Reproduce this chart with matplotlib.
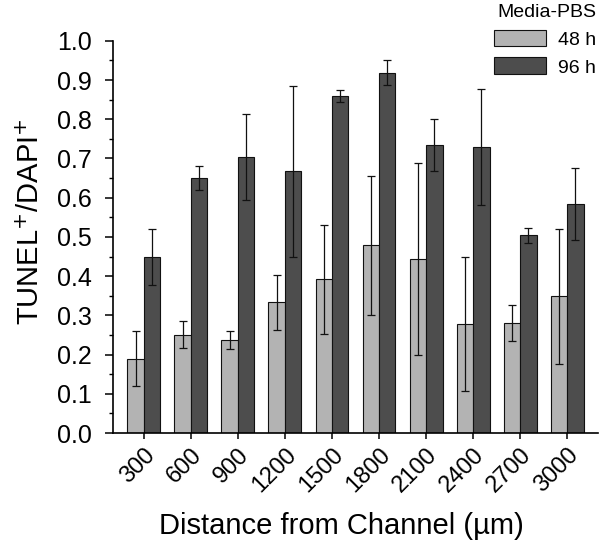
import numpy as np
import matplotlib.pyplot as plt
from matplotlib.ticker import MultipleLocator

plt.rcParams['font.family'] = ['Liberation Sans', 'DejaVu Sans']

# Dados
distancias = ['300', '600', '900', '1200', '1500', '1800', '2100', '2400', '2700', '3000']
media_48h = [0.19, 0.251, 0.237, 0.333, 0.392, 0.479, 0.443, 0.279, 0.281, 0.349]
erro_48h = [0.07, 0.034, 0.023, 0.071, 0.139, 0.177, 0.245, 0.171, 0.046, 0.172]
media_96h = [0.449, 0.65, 0.703, 0.667, 0.859, 0.919, 0.735, 0.729, 0.504, 0.584]
erro_96h = [0.072, 0.031, 0.11, 0.217, 0.016, 0.032, 0.066, 0.148, 0.019, 0.092]

x = np.arange(1, len(distancias) + 1)
w = 0.35

fig = plt.figure(figsize=(6, 5.51), dpi=100)
ax = fig.add_axes([0.188, 0.214, 0.809, 0.712])

ax.bar(x - w / 2, media_48h, w, color='#b3b3b3', edgecolor='#111111', linewidth=0.8, label='48 h')
ax.bar(x + w / 2, media_96h, w, color='#4d4d4d', edgecolor='#111111', linewidth=0.8, label='96 h')
ax.errorbar(x - w / 2, media_48h, yerr=erro_48h, fmt='none', ecolor='#111111', elinewidth=0.9, capsize=2.6, capthick=0.9)
ax.errorbar(x + w / 2, media_96h, yerr=erro_96h, fmt='none', ecolor='#111111', elinewidth=0.9, capsize=2.6, capthick=0.9)

ax.set_xlim(0.34, 10.66)
ax.set_ylim(0, 1.0)
ax.set_xticks(x)
ax.set_xticklabels(distancias, rotation=45, ha='right', rotation_mode='anchor', fontsize=17)
ax.yaxis.set_major_locator(MultipleLocator(0.1))
ax.yaxis.set_minor_locator(MultipleLocator(0.05))
ax.yaxis.set_major_formatter(plt.FormatStrFormatter('%.1f'))
ax.tick_params(axis='y', which='major', length=6, width=1.1, labelsize=18, pad=9)
ax.tick_params(axis='y', which='minor', length=3, width=1.0)
ax.tick_params(axis='x', length=4, width=1.1, pad=4)

for s in ['top', 'right']:
    ax.spines[s].set_visible(False)
for s in ['left', 'bottom']:
    ax.spines[s].set_linewidth(1.2)

ax.set_ylabel(r'TUNEL$^{+}$/DAPI$^{+}$', fontsize=21)
ax.yaxis.set_label_coords(-0.14, 0.54)
ax.set_xlabel('Distance from Channel (µm)', fontsize=21)
ax.xaxis.set_label_coords(0.47, -0.2)

leg = ax.legend(title='Media-PBS', loc='upper right', bbox_to_anchor=(1.0, 1.0),
                bbox_transform=fig.transFigure, frameon=False, fontsize=14, title_fontsize=14,
                handlelength=2.7, handleheight=0.95, handletextpad=0.6, labelspacing=0.45,
                borderpad=0.05, borderaxespad=0.15, alignment='right')

fig.savefig('out.png', dpi=100)
